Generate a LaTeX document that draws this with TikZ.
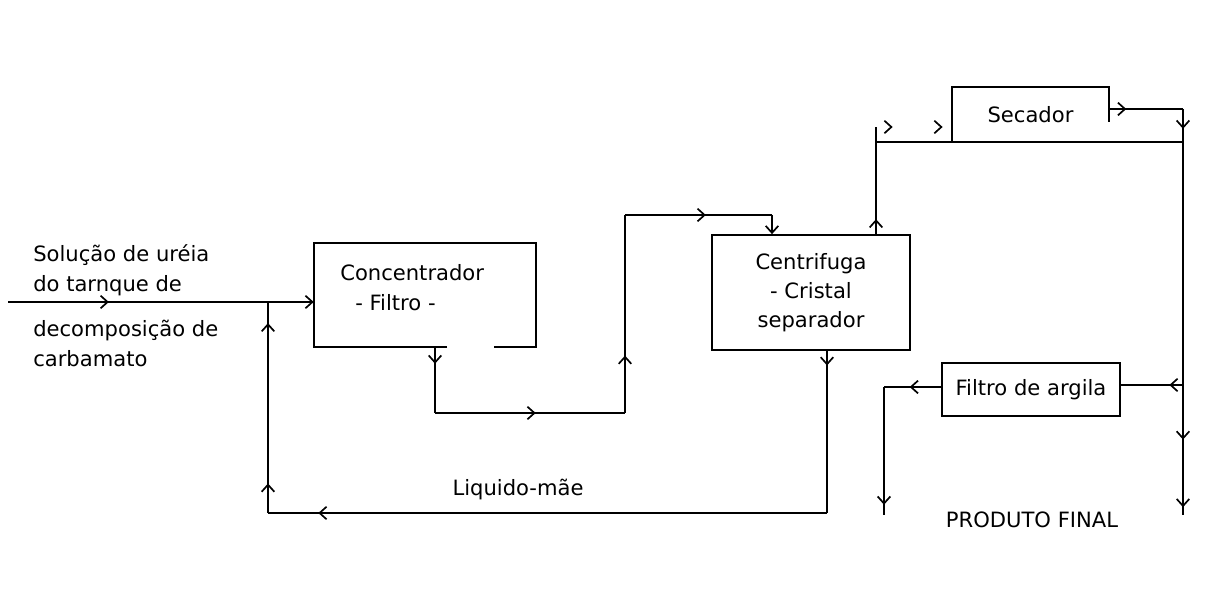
\documentclass[tikz,border=0pt]{standalone}
\usepackage{fontspec}
\setmainfont{DejaVu Sans}
\usetikzlibrary{arrows.meta, positioning, calc, decorations.markings}

\begin{document}
\begin{tikzpicture}[
  x=0.025cm, y=-0.025cm,
  unit/.style  = {rectangle, draw=none, minimum width=4cm, minimum height=1.3cm,
                  align=center, font=\fontsize{15}{20.5}\selectfont, inner sep=0pt},
  lbl/.style   = {align=left, font=\fontsize{15}{21.3}\selectfont, inner sep=0pt},
  wire/.style  = {line width=1.2pt, draw=black},
  tip/.style   = {wire, -{Straight Barb[length=5pt,width=9pt]}},
  flow/.style  = {wire, postaction={decorate},
                  decoration={markings, mark=at position #1 with {\arrow{Straight Barb[length=5pt,width=9pt]}}}},
  flows/.style 2 args = {wire, postaction={decorate},
                  decoration={markings,
                    mark=at position #1 with {\arrow{Straight Barb[length=5pt,width=9pt]}},
                    mark=at position #2 with {\arrow{Straight Barb[length=5pt,width=9pt]}}}},
]
\useasboundingbox (0,0) rectangle (1232,590);

%% ── Units ────────────────────────────────────────────────────────────────
\node[unit, minimum width=5.55cm, minimum height=2.6cm]   (conc) at (425,295) {};
\node[unit, draw, line width=1.2pt, minimum width=4.95cm, minimum height=2.875cm]
                                                          (cent) at (811,292.5) {Centrifuga\\- Cristal\\separador};
\node[unit, minimum width=3.925cm, minimum height=1.375cm] (sec) at (1030.5,114.5) {Secador};
\node[unit, draw, line width=1.2pt, minimum width=4.45cm, minimum height=1.325cm]
                                                          (filt) at (1031,389.5) {Filtro de argila};

% open outlines
\draw[line width=1.2pt] ([xshift=0.55cm]conc.south) -- (conc.south west) -- (conc.north west)
            -- (conc.north east) -- (conc.south east) -- ++(-1.05cm,0);
\draw[line width=1.2pt] (sec.south west) -- (sec.north west) -- (sec.north east) -- ++(0,-0.875cm);

%% ── Texts ────────────────────────────────────────────────────────────────
\node[lbl, anchor=west] (conctxt) at (340,288) {Concentrador\\\hspace*{0.375cm}- Filtro -};
\node[lbl, anchor=west] (src1) at (33,270) {Solução de uréia\\do tarnque de};
\node[lbl, anchor=west] (src2) at (33,343) {decomposição de\\carbamato};
\node[lbl]              (mae)  at (518,490)  {Liquido-mãe};
\node[lbl]              (prod) at (1032,520) {PRODUTO FINAL};

%% ── Feed ─────────────────────────────────────────────────────────────────
\coordinate (in) at (8,302);
\draw[tip, flow=0.33] (in) -- (in -| conc.west);

%% ── Concentrador -> Centrifuga ───────────────────────────────────────────
\coordinate (b1) at (435,413);
\coordinate (b2) at (625,413);
\coordinate (b3) at (625,215);
\coordinate (b4) at (772,215);
\draw[flow=0.25] (b1 |- conc.south) -- (b1);
\draw[flow=0.53] (b1) -- (b2);
\draw[flow=0.29] (b2) -- (b3);
\draw[flow=0.55] (b3) -- (b4);
\draw[tip]       (b4) -- (b4 |- cent.north);

%% ── Liquido-mae recycle ──────────────────────────────────────────────────
\coordinate (r1) at (827,513);
\coordinate (r2) at (268,513);
\draw[flow=0.09]         (r1 |- cent.south) -- (r1);
\draw[flow=0.91]         (r1) -- (r2);
\draw[flows={0.14}{0.9}] (r2) -- (r2 |- in);

%% ── Centrifuga -> Secador / bypass ───────────────────────────────────────
\coordinate (t0) at (876,127);
\coordinate (t1) at (876,142);
\coordinate (t2) at (1183,142);
\draw[flow=0.14]           (t1 |- cent.north) -- (t0);
\draw[wire]                (t1) -- (t2);
\path[flows={0.22}{0.88}, draw=none]  (t0) -- (t0 -| sec.west);

%% ── Secador -> Filtro de argila / produto ────────────────────────────────
\coordinate (s1) at (1183,109);
\coordinate (s2) at (1183,385);
\coordinate (s3) at (1183,515);
\draw[flow=0.23]            (sec.east |- s1) -- (s1);
\draw[flow=0.6]             (s1) -- (t2);
\draw[wire]                 (t2) -- (s2);
\draw[flows={0.42}{0.94}]   (s2) -- (s3);
\draw[flow=0.22]            (s2) -- (s2 -| filt.east);

\coordinate (f1) at (884,387);
\coordinate (f2) at (884,515);
\draw[flow=0.55] (filt.west |- f1) -- (f1);
\draw[flow=0.92] (f1) -- (f2);

\end{tikzpicture}
\end{document}
